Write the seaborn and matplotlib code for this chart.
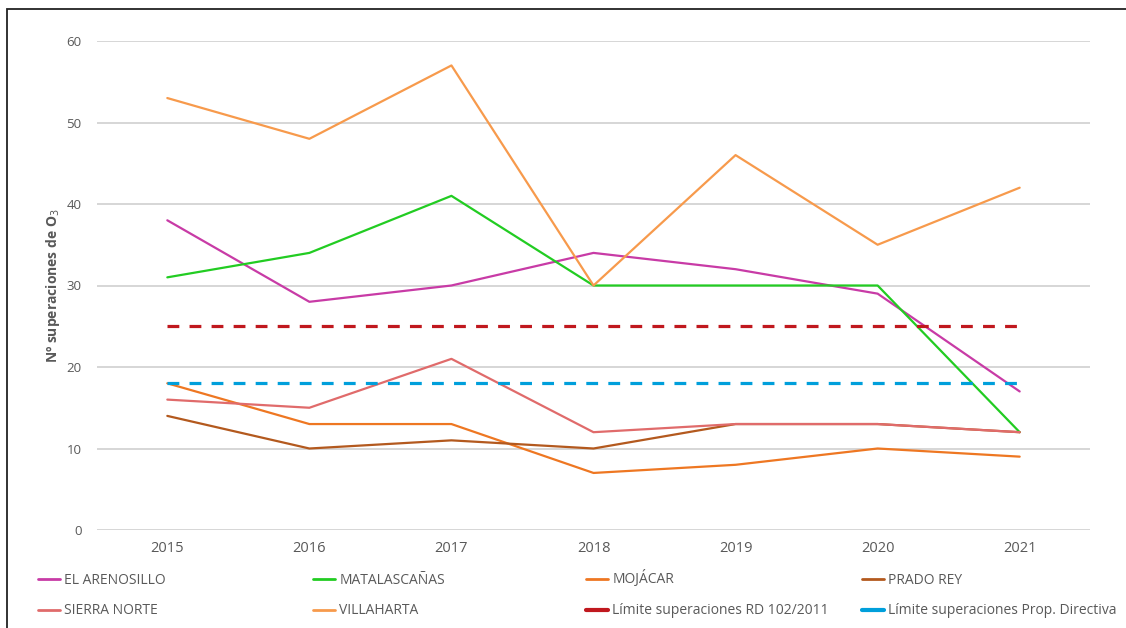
import matplotlib
matplotlib.use("Agg")
import matplotlib.pyplot as plt
import seaborn as sns
import pandas as pd
from matplotlib.patches import Rectangle
from matplotlib.lines import Line2D

years = [2015, 2016, 2017, 2018, 2019, 2020, 2021]
el_arenosillo = [38, 28, 30, 34, 32, 29, 17]
matalascanas = [31, 34, 41, 30, 30, 30, 12]
mojacar = [18, 13, 13, 7, 8, 10, 9]
prado_rey = [14, 10, 11, 10, 13, 13, 12]
sierra_norte = [16, 15, 21, 12, 13, 13, 12]
villaharta = [53, 48, 57, 30, 46, 35, 42]
limite_rd = [25, 25, 25, 25, 25, 25, 25]
limite_prop = [18, 18, 18, 18, 18, 18, 18]

series_names = ["EL ARENOSILLO", "MATALASCAÑAS", "MOJÁCAR", "PRADO REY",
                "SIERRA NORTE", "VILLAHARTA",
                "Límite superaciones RD 102/2011", "Límite superaciones Prop. Directiva"]
series_values = [el_arenosillo, matalascanas, mojacar, prado_rey,
                 sierra_norte, villaharta, limite_rd, limite_prop]
colors = ["#C83BA6", "#22CC22", "#EE7722", "#B3591E",
          "#E06B6B", "#F79A4C", "#C0181E", "#009FDB"]
dashed = [False] * 6 + [True, True]

sns.set_theme(style="white")
plt.rcParams['font.family'] = ['Open Sans', 'DejaVu Sans']

fig = plt.figure(figsize=(11.26, 6.28), dpi=100)
ax = fig.add_axes([97 / 1126, 1 - 530 / 628, (1090 - 97) / 1126, (530 - 41) / 628])

handles = []
for name, vals, col, dsh in zip(series_names, series_values, colors, dashed):
    df = pd.DataFrame({"year": years, "value": vals})
    if dsh:
        sns.lineplot(data=df, x="year", y="value", ax=ax, color=col,
                     linewidth=2.3, linestyle=(0, (3.7, 3.2)), legend=False)
        handles.append(Line2D([0], [0], color=col, linewidth=3.0))
    else:
        sns.lineplot(data=df, x="year", y="value", ax=ax, color=col,
                     linewidth=1.6, legend=False)
        handles.append(Line2D([0], [0], color=col, linewidth=2.0))

ax.set_xlim(2014.505, 2021.495)
ax.set_ylim(0, 60)
ax.set_yticks([0, 10, 20, 30, 40, 50, 60])
ax.set_xticks(years)
ax.set_xticklabels([str(y) for y in years])
ax.yaxis.grid(True, color="#D0D0D0", linewidth=1.2)
ax.xaxis.grid(False)
ax.set_axisbelow(True)
for s in ax.spines.values():
    s.set_visible(False)
ax.tick_params(axis="y", colors="#595959", labelsize=9.5, length=0, pad=11)
ax.tick_params(axis="x", colors="#595959", labelsize=10.5, length=0, pad=8)
ax.set_xlabel("")
ax.set_ylabel("Nº superaciones de O$_3$", color="#595959", fontsize=10,
              fontweight="bold", labelpad=3)

# frame of the image
fig.patches.append(Rectangle((7 / 1126, -0.1), 1.2, 1 - 9 / 628 + 0.1,
                             transform=fig.transFigure, fill=False,
                             edgecolor="#222222", linewidth=1.3, zorder=10))

# legend: four columns, two rows, each entry placed on its own
col_x = [38 / 1126, 313 / 1126, 586 / 1126, 862 / 1126]
row_y = [1 - 580 / 628, 1 - 611 / 628]
leg_font = {'size': 10}
for i in range(8):
    r, c = divmod(i, 4)
    y = row_y[r]
    if i == 2:
        y += 1 / 628
    leg = fig.legend([handles[i]], [series_names[i]],
                     loc="center left", bbox_to_anchor=(col_x[c], y),
                     frameon=False, handlelength=1.6, handletextpad=0.3,
                     prop=leg_font, borderaxespad=0, borderpad=0)
    for t in leg.get_texts():
        t.set_color("#595959")

fig.savefig("out.png", dpi=100)
